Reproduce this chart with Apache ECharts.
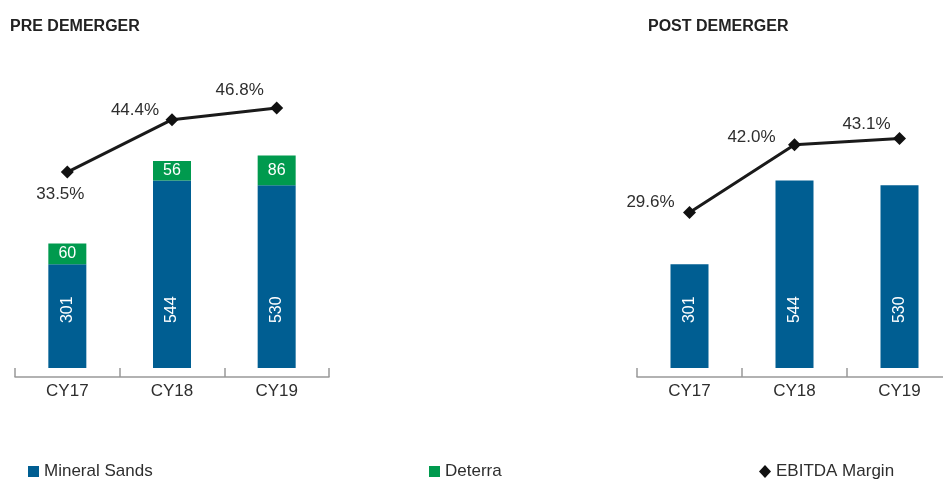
<!DOCTYPE html>
<html><head><meta charset="utf-8">
<script src="https://cdn.jsdelivr.net/npm/echarts@6/dist/echarts.min.js"></script>
<style>html,body{margin:0;padding:0;background:#fff}#c{width:943px;height:479px}</style>
</head><body><div id="c"></div>
<script>
const categories = ['CY17', 'CY18', 'CY19'];
const preMineralSands = [301, 544, 530];
const preDeterra = [60, 56, 86];
const preEbitdaMargin = [33.5, 44.4, 46.8];
const postMineralSands = [301, 544, 530];
const postEbitdaMargin = [29.6, 42.0, 43.1];
const titles = ['PRE DEMERGER', 'POST DEMERGER'];
const legendNames = ['Mineral Sands', 'Deterra', 'EBITDA Margin'];

const FONT = '"Liberation Sans", Arial, sans-serif';
const BLUE = '#005e92', GREEN = '#009a4e', DARK = '#222222', TEXT = '#2e2e2e';
const preLabelOffsets = [[-7, 22], [-37, -9], [-37, -18]];
const postLabelOffsets = [[-39, -10], [-43, -7], [-33, -14]];

function marginData(vals, offs) {
  return vals.map((v, i) => ({ value: v, label: { offset: offs[i] } }));
}

const chart = echarts.init(document.getElementById('c'), null, { renderer: 'canvas' });
const xAxisCommon = {
  type: 'category', data: categories, boundaryGap: true,
  axisLine: { onZero: false, lineStyle: { color: '#999', width: 1.5 } },
  axisTick: { show: true, inside: true, length: 9, lineStyle: { color: '#999', width: 1.5 } },
  axisLabel: { color: TEXT, fontSize: 17, fontFamily: FONT, margin: 6 },
  splitLine: { show: false }
};
const valHidden = { type: 'value', show: false, splitLine: { show: false } };
const barLabelBlue = { show: true, position: 'insideBottom', distance: 45, rotate: 90, align: 'left', verticalAlign: 'middle', color: '#fff', fontSize: 16, fontFamily: FONT };
const barLabelGreen = { show: true, position: 'inside', color: '#fff', fontSize: 16, fontFamily: FONT };
const lineLabel = { show: true, position: 'inside', color: TEXT, fontSize: 17, fontFamily: FONT,
  formatter: p => Number(p.value).toFixed(1) + '%' };
const legendText = { color: TEXT, fontSize: 17, fontFamily: FONT };

chart.setOption({
  animation: false,
  title: [
    { text: titles[0], left: 5, top: 14, textStyle: { fontSize: 16, fontWeight: 'bold', color: DARK, fontFamily: FONT } },
    { text: titles[1], left: 643, top: 14, textStyle: { fontSize: 16, fontWeight: 'bold', color: DARK, fontFamily: FONT } }
  ],
  legend: [
    { data: [{ name: legendNames[0], icon: 'rect' }], left: 28, top: 463, padding: 0, itemWidth: 11, itemHeight: 11, itemGap: 3, textStyle: legendText },
    { data: [{ name: legendNames[1], icon: 'rect' }], left: 429, top: 463, padding: 0, itemWidth: 11, itemHeight: 11, itemGap: 3, textStyle: legendText },
    { data: [{ name: legendNames[2], icon: 'diamond' }], left: 759, top: 463, padding: 0, itemWidth: 12, itemHeight: 13, itemGap: 3, textStyle: legendText }
  ],
  grid: [
    { left: 15, width: 314, top: 60, height: 317, outerBoundsMode: 'none' },
    { left: 637, width: 315, top: 60, height: 317, outerBoundsMode: 'none' }
  ],
  xAxis: [
    Object.assign({}, xAxisCommon, { gridIndex: 0 }),
    Object.assign({}, xAxisCommon, { gridIndex: 1 })
  ],
  yAxis: [
    Object.assign({}, valHidden, { gridIndex: 0, min: -26, max: 893 }),
    Object.assign({}, valHidden, { gridIndex: 0, min: -9.1, max: 56.8 }),
    Object.assign({}, valHidden, { gridIndex: 1, min: -26, max: 893 }),
    Object.assign({}, valHidden, { gridIndex: 1, min: -0.44, max: 57.46 })
  ],
  series: [
    { name: legendNames[0], type: 'bar', xAxisIndex: 0, yAxisIndex: 0, stack: 'pre', data: preMineralSands, barWidth: 38, itemStyle: { color: BLUE }, label: barLabelBlue },
    { name: legendNames[1], type: 'bar', xAxisIndex: 0, yAxisIndex: 0, stack: 'pre', data: preDeterra, barWidth: 38, itemStyle: { color: GREEN }, label: barLabelGreen },
    { name: legendNames[2], type: 'line', xAxisIndex: 0, yAxisIndex: 1, data: marginData(preEbitdaMargin, preLabelOffsets), symbol: 'diamond', symbolSize: 13, itemStyle: { color: '#111' }, lineStyle: { color: '#1a1a1a', width: 3 }, label: lineLabel, z: 5 },
    { name: legendNames[0], type: 'bar', xAxisIndex: 1, yAxisIndex: 2, data: postMineralSands, barWidth: 38, itemStyle: { color: BLUE }, label: barLabelBlue },
    { name: legendNames[2], type: 'line', xAxisIndex: 1, yAxisIndex: 3, data: marginData(postEbitdaMargin, postLabelOffsets), symbol: 'diamond', symbolSize: 13, itemStyle: { color: '#111' }, lineStyle: { color: '#1a1a1a', width: 3 }, label: lineLabel, z: 5 }
  ]
});
</script>
</body></html>
